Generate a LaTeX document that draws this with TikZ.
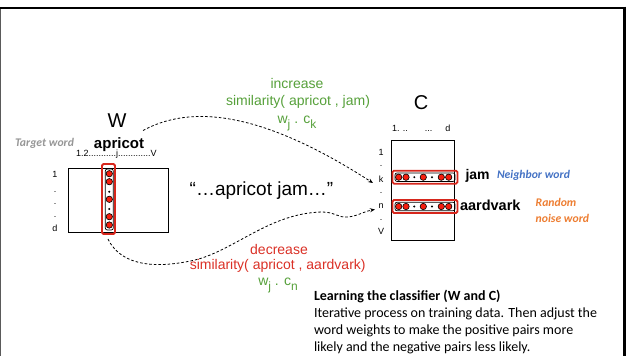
\documentclass[tikz,border=0pt]{standalone}
\usepackage{fontspec}
\setmainfont{Liberation Sans}
\newfontfamily\calfont{Carlito}
\usetikzlibrary{arrows.meta}
\definecolor{grn}{RGB}{86,160,58}
\definecolor{redt}{RGB}{218,48,38}
\definecolor{boxred}{RGB}{214,38,28}
\definecolor{dotred}{RGB}{245,30,15}
\definecolor{blu}{RGB}{68,114,196}
\definecolor{org}{RGB}{237,125,49}
\definecolor{gry}{RGB}{150,150,150}
\definecolor{frameg}{RGB}{90,90,90}
\tikzset{
  txt/.style={inner sep=0pt, outer sep=0pt},
  small/.style={txt, font=\fontsize{9}{9}\selectfont},
  big/.style={txt, font=\fontsize{20}{20}\selectfont},
  mid/.style={txt, font=\fontsize{14}{14}\selectfont},
  boldw/.style={txt, font=\bfseries\fontsize{14.5}{14.5}\selectfont},
  reddot/.style={circle, draw=black, fill=dotred, line width=0.6pt, minimum size=6.4pt, inner sep=0pt},
  bdot/.style={circle, fill=black, minimum size=2.2pt, inner sep=0pt},
  redbox/.style={draw=boxred, line width=1.8pt, rounded corners=1.5pt, inner sep=0pt},
  innerbox/.style={draw=black, line width=0.7pt, rounded corners=2pt, inner sep=0pt},
  matbox/.style={draw=black, line width=0.9pt, inner sep=0pt},
  link/.style={dash pattern=on 2.6pt off 2pt, line width=0.8pt, -{Stealth[length=5pt,width=4pt]}},
  note/.style={txt, font=\calfont\bfseries\itshape\fontsize{11.7}{11.7}\selectfont},
  para/.style={txt, anchor=base west, font=\calfont\fontsize{14}{14}\selectfont},
}
\begin{document}
\begin{tikzpicture}[x=1pt,y=-1pt]
\useasboundingbox (0,0) rectangle (627,356);
% slide frame
\draw[frameg, line width=1.4pt] (0.7,8) -- (0.7,356);
\draw[line width=2.6pt] (0,8) -- (626,8);
\draw[line width=3pt] (624.5,6.7) -- (624.5,356);

% ---------- W side ----------
\node[big] (Wlbl) at (117,121) {W};
\node[note, gry, anchor=base east] (target) at (74,146.7) {Target word};
\node[txt, anchor=base, font=\bfseries\fontsize{15}{15}\selectfont] (apricot) at (119,148) {apricot};
\node[small, anchor=base west] (Widx) at (76,156) {1.2...........j.............V};
\node[matbox, minimum width=100pt, minimum height=64pt] (Wmat) at (118,200.5) {};
\node[small] (W1) at (55,174) {1};
\node[small] (Wd1) at (55,192) {.};
\node[small] (Wd2) at (55,204) {.};
\node[small] (Wd3) at (55,217) {.};
\node[small] (Wd) at (55,228) {d};
\node[innerbox, minimum width=8pt, minimum height=61pt] (Wcol) at (109.3,199.5) {};
\node[redbox, minimum width=13pt, minimum height=70pt] (Wcolred) at (108.5,199) {};
\foreach \y [count=\i] in {173.7,181.7,199.3,216.7,225}
  \node[reddot] (wr\i) at (109.3,\y) {};
\foreach \y [count=\i] in {191.7,209}
  \node[bdot] (wb\i) at (109.3,\y) {};

% ---------- context ----------
\node[txt, anchor=base, font=\fontsize{19}{19}\selectfont] (ctx) at (261.5,195) {“…apricot jam…”};

% ---------- C side ----------
\node[big] (Clbl) at (421,103) {C};
\node[small, anchor=base west] (Cidx) at (392,131) {1. ..\hspace{17pt}...\hspace{13pt}d};
\node[matbox, minimum width=63pt, minimum height=100pt] (Cmat) at (422.5,190) {};
\node[small] (C1) at (381,152) {1};
\node[small] (Cd1) at (381,166) {.};
\node[small] (Ck) at (381,179) {k};
\node[small] (Cd2) at (381,193) {.};
\node[small] (Cn) at (381,206) {n};
\node[small] (Cd3) at (381,220) {.};
\node[small] (CV) at (381,231) {V};
\foreach \r/\yc in {jam/177.2, aard/206.5} {
  \node[innerbox, minimum width=60pt, minimum height=8.5pt] (\r in) at (425,\yc) {};
  \node[redbox, minimum width=65pt, minimum height=13pt] (\r box) at (425,\yc) {};
  \foreach \x [count=\i] in {398.7,406,423.3,441.3,448.7}
    \node[reddot] (\r r\i) at (\x,\yc) {};
  \foreach \x [count=\i] in {414.3,432}
    \node[bdot] (\r b\i) at (\x,\yc) {};
}
\node[boldw, anchor=base west, font=\bfseries\fontsize{14}{14}\selectfont] (jam) at (465.5,179) {jam};
\node[note, blu, anchor=base west] (neigh) at (497,178.3) {Neighbor word};
\node[boldw, anchor=base west] (aard) at (460,210.5) {aardvark};
\node[note, org, anchor=base west] (rand1) at (535.7,206) {Random};
\node[note, org, anchor=base west] (rand2) at (535.7,222.7) {noise word};

% ---------- green / red labels ----------
\node[mid, grn, anchor=base] (inc) at (297,88.3) {increase};
\node[mid, grn, anchor=base] (simj) at (298,105.7) {similarity( apricot , jam)};
\node[mid, grn, anchor=base] (wck) at (297,123) {w\raisebox{-5pt}{\fontsize{12}{12}\selectfont j} . c\raisebox{-5pt}{\fontsize{12}{12}\selectfont k}};
\node[mid, redt, anchor=base] (dec) at (279,254.3) {decrease};
\node[mid, redt, anchor=base] (sima) at (277.7,269.3) {similarity( apricot , aardvark)};
\node[mid, grn, anchor=base] (wcn) at (278,285) {w\raisebox{-5pt}{\fontsize{12}{12}\selectfont j} . c\raisebox{-5pt}{\fontsize{12}{12}\selectfont n}};

% ---------- connectors ----------
\coordinate (s1) at (143,130.5);
\coordinate (e1) at (373,183);
\coordinate (s2) at (108,239);
\coordinate (e2) at (375,209.5);
\draw[link] (s1) .. controls (190,105) and (260,110) .. (e1);
\draw[link] (s2) .. controls (122,268) and (160,268) .. (195,260)
  .. controls (235,250) and (270,213) .. (322,212)
  .. controls (335,212) and (338,218) .. (348,217)
  .. controls (358,216) and (365,211) .. (e2);

% ---------- paragraph ----------
\node[para, font=\calfont\bfseries\fontsize{14}{14}\selectfont] (ptitle) at (314,300) {Learning the classifier (W and C)};
\node[para] (p1) at (314,317) {Iterative process on training data. Then adjust the};
\node[para] (p2) at (314,334) {word weights to make the positive pairs more};
\node[para] (p3) at (314,351) {likely and the negative pairs less likely.};
\end{tikzpicture}
\end{document}
